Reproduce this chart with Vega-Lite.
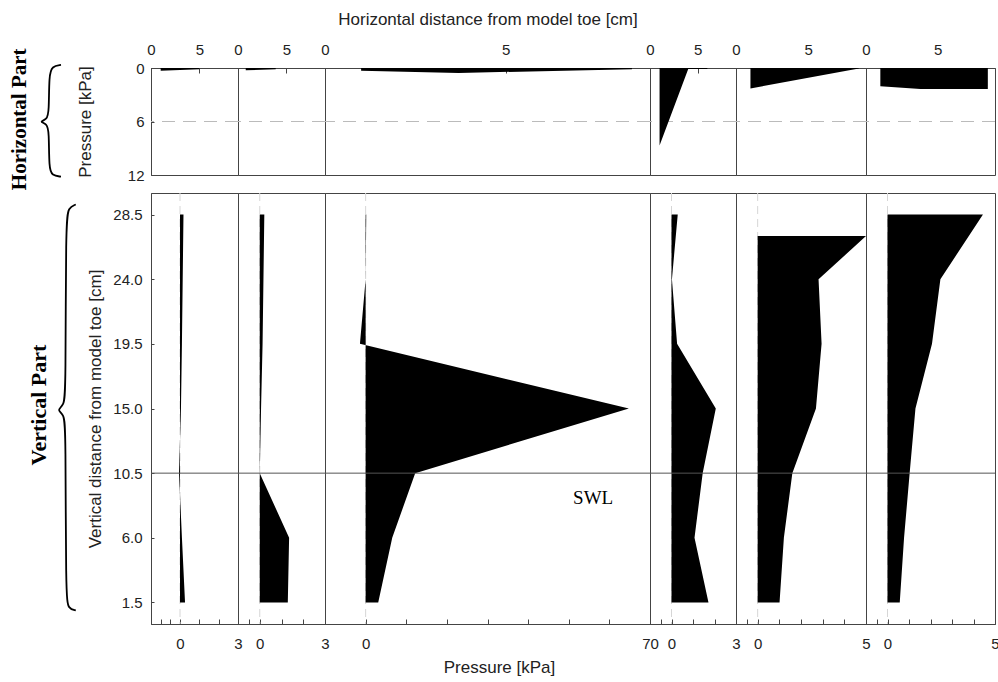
{
  "$schema": "https://vega.github.io/schema/vega-lite/v6.json",
  "padding": {"left": 8, "top": 9, "right": 2, "bottom": 0},
  "background": "white",
  "config": {
    "view": {"stroke": "#444", "strokeWidth": 1},
    "axis": {"labelFont": "Liberation Sans", "titleFont": "Liberation Sans", "labelFontSize": 15, "titleFontSize": 17, "titleFontWeight": "normal", "labelColor": "#222", "titleColor": "#222", "grid": false, "domainColor": "#444", "tickColor": "#444", "labelFlush": false, "labelOverlap": false, "tickSize": 0}
  },
  "datasets": {
    "vert": [
      {"panel": 1, "h": 1.5, "p": 0.26}, {"panel": 1, "h": 6, "p": 0.1}, {"panel": 1, "h": 10.5, "p": -0.05}, {"panel": 1, "h": 15, "p": 0.05}, {"panel": 1, "h": 19.5, "p": 0.1}, {"panel": 1, "h": 24, "p": 0.14}, {"panel": 1, "h": 28.5, "p": 0.18},
      {"panel": 2, "h": 1.5, "p": 1.29}, {"panel": 2, "h": 6, "p": 1.35}, {"panel": 2, "h": 10.5, "p": 0.0}, {"panel": 2, "h": 15, "p": 0.06}, {"panel": 2, "h": 19.5, "p": 0.13}, {"panel": 2, "h": 24, "p": 0.17}, {"panel": 2, "h": 28.5, "p": 0.21},
      {"panel": 3, "h": 1.5, "p": 3.1}, {"panel": 3, "h": 6, "p": 6.55}, {"panel": 3, "h": 10.5, "p": 12.2}, {"panel": 3, "h": 15, "p": 64.8}, {"panel": 3, "h": 19.5, "p": -1.4}, {"panel": 3, "h": 24, "p": 0.0}, {"panel": 3, "h": 28.5, "p": 0.15},
      {"panel": 4, "h": 1.5, "p": 1.72}, {"panel": 4, "h": 6, "p": 1.07}, {"panel": 4, "h": 10.5, "p": 1.45}, {"panel": 4, "h": 15, "p": 2.06}, {"panel": 4, "h": 19.5, "p": 0.26}, {"panel": 4, "h": 24, "p": 0.02}, {"panel": 4, "h": 28.5, "p": 0.29},
      {"panel": 5, "h": 1.5, "p": 1.01}, {"panel": 5, "h": 6, "p": 1.21}, {"panel": 5, "h": 10.5, "p": 1.6}, {"panel": 5, "h": 15, "p": 2.69}, {"panel": 5, "h": 19.5, "p": 2.95}, {"panel": 5, "h": 24, "p": 2.81}, {"panel": 5, "h": 27, "p": 5.0},
      {"panel": 6, "h": 1.5, "p": 0.57}, {"panel": 6, "h": 6, "p": 0.77}, {"panel": 6, "h": 10.5, "p": 1.03}, {"panel": 6, "h": 15, "p": 1.3}, {"panel": 6, "h": 19.5, "p": 2.07}, {"panel": 6, "h": 24, "p": 2.46}, {"panel": 6, "h": 28.5, "p": 4.44}
    ],
    "horiz": [
      {"panel": 1, "d": 1.0, "p": 0.3}, {"panel": 1, "d": 5.0, "p": 0.15},
      {"panel": 2, "d": 0.8, "p": 0.25}, {"panel": 2, "d": 3.9, "p": 0.15},
      {"panel": 3, "d": 1.0, "p": 0.3}, {"panel": 3, "d": 3.7, "p": 0.55}, {"panel": 3, "d": 8.5, "p": 0.15},
      {"panel": 4, "d": 1.0, "p": 8.7}, {"panel": 4, "d": 4.0, "p": 0.12}, {"panel": 4, "d": 6.0, "p": 0.12},
      {"panel": 5, "d": 1.0, "p": 2.3}, {"panel": 5, "d": 8.5, "p": 0.05},
      {"panel": 6, "d": 1.0, "p": 2.05}, {"panel": 6, "d": 3.8, "p": 2.35}, {"panel": 6, "d": 8.5, "p": 2.35}
    ],
    "braceH": [
      {"i": 0, "d": -9.31, "p": -0.34}, {"i": 1, "d": -10.24, "p": -0.2}, {"i": 2, "d": -10.55, "p": 0.8}, {"i": 3, "d": -10.55, "p": 4.9}, {"i": 4, "d": -10.76, "p": 5.8}, {"i": 5, "d": -11.59, "p": 6.02}, {"i": 6, "d": -10.76, "p": 6.24}, {"i": 7, "d": -10.55, "p": 7.1}, {"i": 8, "d": -10.55, "p": 11.3}, {"i": 9, "d": -10.24, "p": 12.05}, {"i": 10, "d": -9.31, "p": 12.19}
    ],
    "braceV": [
      {"i": 0, "p": -5.39, "h": 29.2}, {"i": 1, "p": -5.77, "h": 29.0}, {"i": 2, "p": -5.91, "h": 28.0}, {"i": 3, "p": -5.91, "h": 16.2}, {"i": 4, "p": -6.0, "h": 15.2}, {"i": 5, "p": -6.38, "h": 14.9}, {"i": 6, "p": -6.0, "h": 14.6}, {"i": 7, "p": -5.91, "h": 13.6}, {"i": 8, "p": -5.91, "h": 1.9}, {"i": 9, "p": -5.77, "h": 1.05}, {"i": 10, "p": -5.39, "h": 0.95}
    ],
    "zeroH": [{"p": 6}],
    "zeroV": [{"p": 0}],
    "swl": [{"h": 10.5}]
  },
  "spacing": 1,
  "vconcat": [
    {
      "spacing": 0,
      "bounds": "flush",
      "hconcat": [
        {
          "width": 87, "height": 107,
          "layer": [
            {"data": {"name": "zeroH"}, "mark": {"type": "rule", "color": "#bbb", "strokeDash": [13, 8]},
             "encoding": {"y": {"field": "p", "type": "quantitative", "scale": {"domain": [0, 12], "reverse": true}, "axis": {"values": [0, 6, 12], "title": "Pressure [kPa]", "labelPadding": 10, "tickSize": -3, "minExtent": 40, "maxExtent": 40, "titlePadding": 17}}}},
            {"data": {"name": "horiz"}, "transform": [{"filter": "datum.panel == 1"}], "mark": {"type": "area", "orient": "vertical", "color": "black"},
             "encoding": {"x": {"field": "d", "type": "quantitative", "scale": {"domain": [0, 9]}, "axis": {"orient": "top", "values": [0, 5], "title": null, "labelPadding": 16, "tickSize": -5}},
                          "y": {"field": "p", "type": "quantitative", "stack": null, "scale": {"domain": [0, 12], "reverse": true}, "axis": {"values": [0, 6, 12], "title": "Pressure [kPa]", "labelPadding": 10, "tickSize": -3, "minExtent": 40, "maxExtent": 40, "titlePadding": 17}}}},
            {"data": {"name": "braceH"}, "mark": {"type": "line", "interpolate": "basis", "color": "black", "strokeWidth": 1.8},
             "encoding": {"x": {"field": "d", "type": "quantitative", "axis": {"orient": "top", "values": [0, 5], "title": null, "labelPadding": 16, "tickSize": -5}},
                          "y": {"field": "p", "type": "quantitative", "axis": {"values": [0, 6, 12], "title": "Pressure [kPa]", "labelPadding": 10, "tickSize": -3, "minExtent": 40, "maxExtent": 40, "titlePadding": 17}},
                          "order": {"field": "i", "type": "quantitative"}}},
            {"data": {"values": [{"d": -12.91, "p": 5.75, "t": "Horizontal Part"}]}, "mark": {"type": "text", "angle": 270, "font": "Liberation Serif", "fontWeight": "bold", "fontSize": 21, "baseline": "alphabetic", "align": "center", "color": "black"},
             "encoding": {"x": {"field": "d", "type": "quantitative", "axis": {"orient": "top", "values": [0, 5], "title": null, "labelPadding": 16, "tickSize": -5}},
                          "y": {"field": "p", "type": "quantitative", "axis": {"values": [0, 6, 12], "title": "Pressure [kPa]", "labelPadding": 10, "tickSize": -3, "minExtent": 40, "maxExtent": 40, "titlePadding": 17}},
                          "text": {"field": "t", "type": "nominal"}}}
          ]
        },
        {
          "width": 87, "height": 107,
          "layer": [
            {"data": {"name": "zeroH"}, "mark": {"type": "rule", "color": "#bbb", "strokeDash": [13, 8]}, "encoding": {"y": {"field": "p", "type": "quantitative", "axis": null}}},
            {"data": {"name": "horiz"}, "transform": [{"filter": "datum.panel == 2"}], "mark": {"type": "area", "orient": "vertical", "color": "black"},
             "encoding": {"x": {"field": "d", "type": "quantitative", "scale": {"domain": [0, 9]}, "axis": {"orient": "top", "values": [0, 5], "title": null, "labelPadding": 16, "tickSize": -5}},
                          "y": {"field": "p", "type": "quantitative", "stack": null, "scale": {"domain": [0, 12], "reverse": true}, "axis": null}}}
          ]
        },
        {
          "width": 325, "height": 107,
          "layer": [
            {"data": {"name": "zeroH"}, "mark": {"type": "rule", "color": "#bbb", "strokeDash": [13, 8]}, "encoding": {"y": {"field": "p", "type": "quantitative", "axis": null}}},
            {"data": {"name": "horiz"}, "transform": [{"filter": "datum.panel == 3"}], "mark": {"type": "area", "orient": "vertical", "color": "black"},
             "encoding": {"x": {"field": "d", "type": "quantitative", "scale": {"domain": [0, 9]}, "axis": {"orient": "top", "values": [0, 5], "title": "Horizontal distance from model toe [cm]", "labelPadding": 16, "tickSize": -5, "titlePadding": 14}},
                          "y": {"field": "p", "type": "quantitative", "stack": null, "scale": {"domain": [0, 12], "reverse": true}, "axis": null}}}
          ]
        },
        {
          "width": 86, "height": 107,
          "layer": [
            {"data": {"name": "zeroH"}, "mark": {"type": "rule", "color": "#bbb", "strokeDash": [13, 8]}, "encoding": {"y": {"field": "p", "type": "quantitative", "axis": null}}},
            {"data": {"name": "horiz"}, "transform": [{"filter": "datum.panel == 4"}], "mark": {"type": "area", "orient": "vertical", "color": "black"},
             "encoding": {"x": {"field": "d", "type": "quantitative", "scale": {"domain": [0, 9]}, "axis": {"orient": "top", "values": [0, 5], "title": null, "labelPadding": 16, "tickSize": -5}},
                          "y": {"field": "p", "type": "quantitative", "stack": null, "scale": {"domain": [0, 12], "reverse": true}, "axis": null}}}
          ]
        },
        {
          "width": 130, "height": 107,
          "layer": [
            {"data": {"name": "zeroH"}, "mark": {"type": "rule", "color": "#bbb", "strokeDash": [13, 8]}, "encoding": {"y": {"field": "p", "type": "quantitative", "axis": null}}},
            {"data": {"name": "horiz"}, "transform": [{"filter": "datum.panel == 5"}], "mark": {"type": "area", "orient": "vertical", "color": "black"},
             "encoding": {"x": {"field": "d", "type": "quantitative", "scale": {"domain": [0, 9]}, "axis": {"orient": "top", "values": [0, 5], "title": null, "labelPadding": 16, "tickSize": -5}},
                          "y": {"field": "p", "type": "quantitative", "stack": null, "scale": {"domain": [0, 12], "reverse": true}, "axis": null}}}
          ]
        },
        {
          "width": 129, "height": 107,
          "layer": [
            {"data": {"name": "zeroH"}, "mark": {"type": "rule", "color": "#bbb", "strokeDash": [13, 8]}, "encoding": {"y": {"field": "p", "type": "quantitative", "axis": null}}},
            {"data": {"name": "horiz"}, "transform": [{"filter": "datum.panel == 6"}], "mark": {"type": "area", "orient": "vertical", "color": "black"},
             "encoding": {"x": {"field": "d", "type": "quantitative", "scale": {"domain": [0, 9]}, "axis": {"orient": "top", "values": [0, 5], "title": null, "labelPadding": 16, "tickSize": -5}},
                          "y": {"field": "p", "type": "quantitative", "stack": null, "scale": {"domain": [0, 12], "reverse": true}, "axis": null}}}
          ]
        }
      ]
    },
    {
      "spacing": 0,
      "bounds": "flush",
      "hconcat": [
        {
          "width": 87, "height": 431,
          "layer": [
            {"data": {"name": "zeroV"}, "mark": {"type": "rule", "color": "#d6d6d6", "strokeDash": [8, 5]},
             "encoding": {"x": {"field": "p", "type": "quantitative", "scale": {"domain": [-1.1, 3]}, "axis": {"values": [-1, -0.5, 0, 1, 2, 3], "labelExpr": "datum.value == 0 ? '0' : datum.value == 3 ? '3' : ''", "title": null, "labelPadding": 17, "tickSize": -5}}}},
            {"data": {"name": "vert"}, "transform": [{"filter": "datum.panel == 1"}], "mark": {"type": "area", "orient": "horizontal", "color": "black"},
             "encoding": {"x": {"field": "p", "type": "quantitative", "stack": null, "scale": {"domain": [-1.1, 3]}, "axis": {"values": [-1, -0.5, 0, 1, 2, 3], "labelExpr": "datum.value == 0 ? '0' : datum.value == 3 ? '3' : ''", "title": null, "labelPadding": 17, "tickSize": -5}},
                          "y": {"field": "h", "type": "quantitative", "scale": {"domain": [0, 30]}, "axis": {"values": [1.5, 6, 10.5, 15, 19.5, 24, 28.5], "format": ".1f", "title": "Vertical distance from model toe [cm]", "labelPadding": 12, "tickSize": -3, "minExtent": 38, "maxExtent": 38, "titlePadding": 9}}}},
            {"data": {"name": "swl"}, "mark": {"type": "rule", "color": "#555"},
             "encoding": {"y": {"field": "h", "type": "quantitative", "axis": {"values": [1.5, 6, 10.5, 15, 19.5, 24, 28.5], "format": ".1f", "title": "Vertical distance from model toe [cm]", "labelPadding": 12, "tickSize": -3, "minExtent": 38, "maxExtent": 38, "titlePadding": 9}}}},
            {"data": {"name": "braceV"}, "mark": {"type": "line", "interpolate": "basis", "color": "black", "strokeWidth": 1.8},
             "encoding": {"x": {"field": "p", "type": "quantitative", "axis": {"values": [-1, -0.5, 0, 1, 2, 3], "labelExpr": "datum.value == 0 ? '0' : datum.value == 3 ? '3' : ''", "title": null, "labelPadding": 17, "tickSize": -5}},
                          "y": {"field": "h", "type": "quantitative", "axis": {"values": [1.5, 6, 10.5, 15, 19.5, 24, 28.5], "format": ".1f", "title": "Vertical distance from model toe [cm]", "labelPadding": 12, "tickSize": -3, "minExtent": 38, "maxExtent": 38, "titlePadding": 9}},
                          "order": {"field": "i", "type": "quantitative"}}},
            {"data": {"values": [{"p": -6.94, "h": 15.24, "t": "Vertical Part"}]}, "mark": {"type": "text", "angle": 270, "font": "Liberation Serif", "fontWeight": "bold", "fontSize": 22, "baseline": "alphabetic", "align": "center", "color": "black"},
             "encoding": {"x": {"field": "p", "type": "quantitative", "axis": {"values": [-1, -0.5, 0, 1, 2, 3], "labelExpr": "datum.value == 0 ? '0' : datum.value == 3 ? '3' : ''", "title": null, "labelPadding": 17, "tickSize": -5}},
                          "y": {"field": "h", "type": "quantitative", "axis": {"values": [1.5, 6, 10.5, 15, 19.5, 24, 28.5], "format": ".1f", "title": "Vertical distance from model toe [cm]", "labelPadding": 12, "tickSize": -3, "minExtent": 38, "maxExtent": 38, "titlePadding": 9}},
                          "text": {"field": "t", "type": "nominal"}}}
          ]
        },
        {
          "width": 87, "height": 431,
          "layer": [
            {"data": {"name": "zeroV"}, "mark": {"type": "rule", "color": "#d6d6d6", "strokeDash": [8, 5]},
             "encoding": {"x": {"field": "p", "type": "quantitative", "axis": {"values": [-0.5, 0, 1, 2, 3], "labelExpr": "datum.value == 0 ? '0' : datum.value == 3 ? '3' : ''", "title": null, "labelPadding": 17, "tickSize": -5}}}},
            {"data": {"name": "vert"}, "transform": [{"filter": "datum.panel == 2"}], "mark": {"type": "area", "orient": "horizontal", "color": "black"},
             "encoding": {"x": {"field": "p", "type": "quantitative", "stack": null, "scale": {"domain": [-1, 3]}, "axis": {"values": [-0.5, 0, 1, 2, 3], "labelExpr": "datum.value == 0 ? '0' : datum.value == 3 ? '3' : ''", "title": null, "labelPadding": 17, "tickSize": -5}},
                          "y": {"field": "h", "type": "quantitative", "scale": {"domain": [0, 30]}, "axis": null}}},
            {"data": {"name": "swl"}, "mark": {"type": "rule", "color": "#555"}, "encoding": {"y": {"field": "h", "type": "quantitative", "axis": null}}}
          ]
        },
        {
          "width": 325, "height": 431,
          "layer": [
            {"data": {"name": "zeroV"}, "mark": {"type": "rule", "color": "#d6d6d6", "strokeDash": [8, 5]},
             "encoding": {"x": {"field": "p", "type": "quantitative", "axis": {"values": [0, 10, 20, 30, 40, 50, 60, 70], "labelExpr": "datum.value == 0 ? '0' : datum.value == 70 ? '70' : ''", "title": "Pressure [kPa]", "labelPadding": 17, "tickSize": -5, "titlePadding": 8, "titleX": 174}}}},
            {"data": {"name": "vert"}, "transform": [{"filter": "datum.panel == 3"}], "mark": {"type": "area", "orient": "horizontal", "color": "black"},
             "encoding": {"x": {"field": "p", "type": "quantitative", "stack": null, "scale": {"domain": [-5, 70]}, "axis": {"values": [0, 10, 20, 30, 40, 50, 60, 70], "labelExpr": "datum.value == 0 ? '0' : datum.value == 70 ? '70' : ''", "title": "Pressure [kPa]", "labelPadding": 17, "tickSize": -5, "titlePadding": 8, "titleX": 174}},
                          "y": {"field": "h", "type": "quantitative", "scale": {"domain": [0, 30]}, "axis": null}}},
            {"data": {"name": "swl"}, "mark": {"type": "rule", "color": "#555"}, "encoding": {"y": {"field": "h", "type": "quantitative", "axis": null}}},
            {"data": {"values": [{"p": 56, "h": 8.8, "t": "SWL"}]}, "mark": {"type": "text", "font": "Liberation Serif", "fontSize": 19, "color": "black"},
             "encoding": {"x": {"field": "p", "type": "quantitative", "axis": {"values": [0, 10, 20, 30, 40, 50, 60, 70], "labelExpr": "datum.value == 0 ? '0' : datum.value == 70 ? '70' : ''", "title": "Pressure [kPa]", "labelPadding": 17, "tickSize": -5, "titlePadding": 8, "titleX": 174}},
                          "y": {"field": "h", "type": "quantitative", "axis": null}, "text": {"field": "t", "type": "nominal"}}}
          ]
        },
        {
          "width": 86, "height": 431,
          "layer": [
            {"data": {"name": "zeroV"}, "mark": {"type": "rule", "color": "#d6d6d6", "strokeDash": [8, 5]},
             "encoding": {"x": {"field": "p", "type": "quantitative", "axis": {"values": [-0.5, 0, 1, 2, 3], "labelExpr": "datum.value == 0 ? '0' : datum.value == 3 ? '3' : ''", "title": null, "labelPadding": 17, "tickSize": -5}}}},
            {"data": {"name": "vert"}, "transform": [{"filter": "datum.panel == 4"}], "mark": {"type": "area", "orient": "horizontal", "color": "black"},
             "encoding": {"x": {"field": "p", "type": "quantitative", "stack": null, "scale": {"domain": [-1, 3]}, "axis": {"values": [-0.5, 0, 1, 2, 3], "labelExpr": "datum.value == 0 ? '0' : datum.value == 3 ? '3' : ''", "title": null, "labelPadding": 17, "tickSize": -5}},
                          "y": {"field": "h", "type": "quantitative", "scale": {"domain": [0, 30]}, "axis": null}}},
            {"data": {"name": "swl"}, "mark": {"type": "rule", "color": "#555"}, "encoding": {"y": {"field": "h", "type": "quantitative", "axis": null}}}
          ]
        },
        {
          "width": 130, "height": 431,
          "layer": [
            {"data": {"name": "zeroV"}, "mark": {"type": "rule", "color": "#d6d6d6", "strokeDash": [8, 5]},
             "encoding": {"x": {"field": "p", "type": "quantitative", "axis": {"values": [-0.5, 0, 1, 2, 3, 4, 5], "labelExpr": "datum.value == 0 ? '0' : datum.value == 5 ? '5' : ''", "title": null, "labelPadding": 17, "tickSize": -5}}}},
            {"data": {"name": "vert"}, "transform": [{"filter": "datum.panel == 5"}], "mark": {"type": "area", "orient": "horizontal", "color": "black"},
             "encoding": {"x": {"field": "p", "type": "quantitative", "stack": null, "scale": {"domain": [-1, 5]}, "axis": {"values": [-0.5, 0, 1, 2, 3, 4, 5], "labelExpr": "datum.value == 0 ? '0' : datum.value == 5 ? '5' : ''", "title": null, "labelPadding": 17, "tickSize": -5}},
                          "y": {"field": "h", "type": "quantitative", "scale": {"domain": [0, 30]}, "axis": null}}},
            {"data": {"name": "swl"}, "mark": {"type": "rule", "color": "#555"}, "encoding": {"y": {"field": "h", "type": "quantitative", "axis": null}}}
          ]
        },
        {
          "width": 129, "height": 431,
          "layer": [
            {"data": {"name": "zeroV"}, "mark": {"type": "rule", "color": "#d6d6d6", "strokeDash": [8, 5]},
             "encoding": {"x": {"field": "p", "type": "quantitative", "axis": {"values": [-0.5, 0, 1, 2, 3, 4, 5], "labelExpr": "datum.value == 0 ? '0' : datum.value == 5 ? '5' : ''", "title": null, "labelPadding": 17, "tickSize": -5}}}},
            {"data": {"name": "vert"}, "transform": [{"filter": "datum.panel == 6"}], "mark": {"type": "area", "orient": "horizontal", "color": "black"},
             "encoding": {"x": {"field": "p", "type": "quantitative", "stack": null, "scale": {"domain": [-1, 5]}, "axis": {"values": [-0.5, 0, 1, 2, 3, 4, 5], "labelExpr": "datum.value == 0 ? '0' : datum.value == 5 ? '5' : ''", "title": null, "labelPadding": 17, "tickSize": -5}},
                          "y": {"field": "h", "type": "quantitative", "scale": {"domain": [0, 30]}, "axis": null}}},
            {"data": {"name": "swl"}, "mark": {"type": "rule", "color": "#555"}, "encoding": {"y": {"field": "h", "type": "quantitative", "axis": null}}}
          ]
        }
      ]
    }
  ]
}
